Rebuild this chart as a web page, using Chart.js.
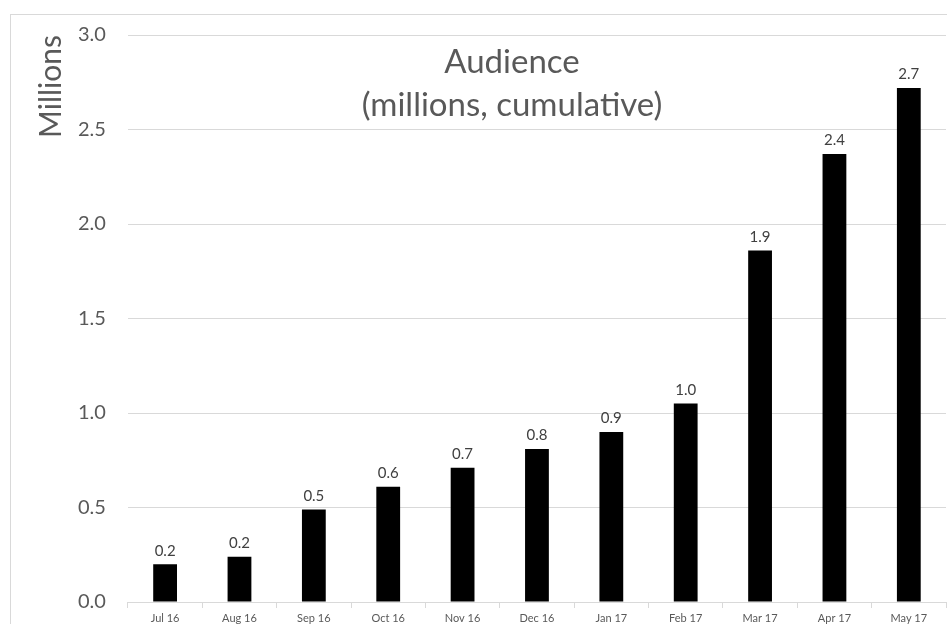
<!DOCTYPE html>
<html><head><meta charset="utf-8">
<script src="https://cdn.jsdelivr.net/npm/chart.js@4"></script>
<style>
html,body{margin:0;padding:0;overflow:hidden;background:#fff;width:947px;height:624px;}
#frame{position:absolute;left:10px;top:14px;width:1010px;height:640px;border:1px solid #d9d9d9;overflow:hidden;background:#fff;}
#box{position:absolute;left:0;top:-14px;width:936px;height:635px;}
</style></head>
<body>
<div id="frame"><div id="box"><canvas id="c"></canvas></div></div>
<script>
const categories = ["Jul 16","Aug 16","Sep 16","Oct 16","Nov 16","Dec 16","Jan 17","Feb 17","Mar 17","Apr 17","May 17"];
const audience = [0.20,0.24,0.49,0.61,0.71,0.81,0.90,1.05,1.86,2.37,2.72];
const valueLabels = ["0.2","0.2","0.5","0.6","0.7","0.8","0.9","1.0","1.9","2.4","2.7"];
const titleLines = ["Audience","(millions, cumulative)"];
const FONT = "Lato, 'Noto Sans', sans-serif";

const overlay = {
  id:'overlay',
  afterDatasetsDraw(chart){
    const ctx = chart.ctx;
    const meta = chart.getDatasetMeta(0);
    ctx.save();
    ctx.fillStyle = '#404040';
    ctx.font = '15px ' + FONT;
    ctx.textAlign = 'center';
    ctx.textBaseline = 'bottom';
    meta.data.forEach((bar,i)=>{
      ctx.fillText(valueLabels[i], bar.x, bar.y - 6);
    });
    ctx.fillStyle = '#595959';
    ctx.font = '33px ' + FONT;
    ctx.textBaseline = 'middle';
    ctx.fillText(titleLines[0], 501, 61);
    ctx.fillText(titleLines[1], 501, 104);
    ctx.restore();
  }
};

new Chart(document.getElementById('c'), {
  type:'bar',
  data:{labels:categories, datasets:[{data:audience, backgroundColor:'#000000', barPercentage:0.64, categoryPercentage:0.5}]},
  options:{
    responsive:true, maintainAspectRatio:false, animation:false,
    layout:{padding:{left:25,right:1,top:0,bottom:0}},
    plugins:{legend:{display:false}, tooltip:{enabled:false}},
    scales:{
      x:{
        offset:true,
        grid:{display:true, drawOnChartArea:false, drawTicks:true, tickLength:6, color:'#d9d9d9', offset:true},
        border:{display:true, color:'#d9d9d9'},
        ticks:{color:'#595959', font:{family:FONT, size:11}, padding:4, maxRotation:0, autoSkip:false}
      },
      y:{
        min:0, max:3,
        grid:{color:'#d9d9d9', drawTicks:false},
        border:{display:false},
        ticks:{stepSize:0.5, color:'#595959', font:{family:FONT, size:20}, padding:22, callback:v=>v.toFixed(1)},
        title:{display:true, align:'end', text:'Millions', color:'#595959', font:{family:FONT, size:30, lineHeight:1}, padding:{top:0,bottom:-10}}
      }
    }
  },
  plugins:[overlay]
});
</script>
</body></html>
